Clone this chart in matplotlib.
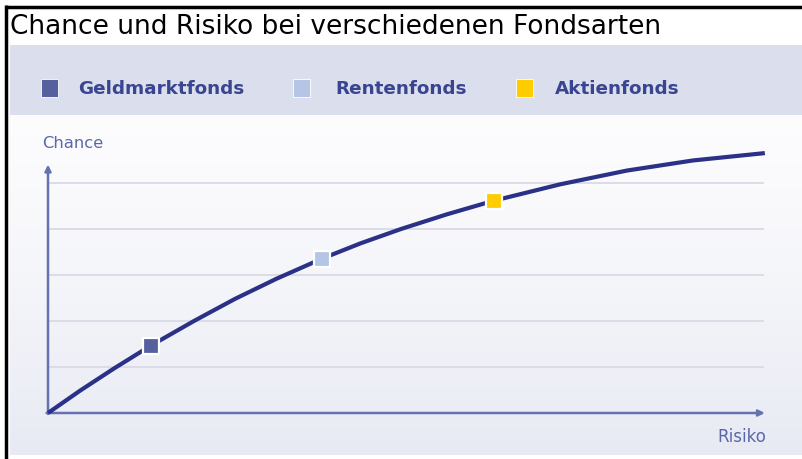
import numpy as np
import matplotlib.pyplot as plt
from matplotlib.patches import Rectangle

# values (Risiko 0..10, Chance in grid steps)
curve_risk = [0, 0.45, 0.92, 1.43, 2.03, 2.60, 3.18, 3.81, 4.35, 4.91,
              5.55, 6.20, 7.12, 8.05, 8.97, 9.97]
curve_chance = [0, 0.49, 0.97, 1.465, 2.00, 2.48, 2.92, 3.355, 3.69, 4.00,
                4.32, 4.615, 4.97, 5.27, 5.49, 5.65]

fund_names = ['Geldmarktfonds', 'Rentenfonds', 'Aktienfonds']
fund_risk = [1.43, 3.81, 6.20]
fund_chance = [1.465, 3.355, 4.615]
fund_colors = ['#56609e', '#b4c5e6', '#ffcc00']

grid_levels = [1, 2, 3, 4, 5]

W, H = 803, 459
fig = plt.figure(figsize=(W / 100, H / 100), dpi=100)
fig.patch.set_facecolor('white')

# background layer in pixel coordinates
bg = fig.add_axes([0, 0, 1, 1])
bg.axis('off')

# frame lines
bg.plot([6.5, W], [6.5, 6.5], color='black', lw=2.5, solid_capstyle='butt')
bg.plot([6.5, 6.5], [5, H], color='black', lw=2.5, solid_capstyle='butt')

# legend band and plot background gradient
bg.add_patch(Rectangle((10, 45), W - 10, 70, color='#dadeed', lw=0))
grad = np.linspace(0, 1, 200).reshape(-1, 1)
top = np.array([0.99, 0.99, 0.995])
bot = np.array([0.91, 0.918, 0.955])
img = top + (bot - top) * grad[:, :, None] ** 1.3
bg.imshow(img, extent=(10, W, 455, 115), aspect='auto', zorder=0)
bg.set_xlim(0, W)
bg.set_ylim(H, 0)

bg.text(10, 27, 'Chance und Risiko bei verschiedenen Fondsarten',
        fontsize=19, family='DejaVu Sans', color='black', va='center', ha='left')

# legend
leg_sq_x = [41, 293, 516]
leg_txt_x = [78, 335, 555]
for name, col, sx, tx in zip(fund_names, fund_colors, leg_sq_x, leg_txt_x):
    bg.add_patch(Rectangle((sx, 79), 17, 18, facecolor=col, edgecolor='white', lw=0.6))
    bg.text(tx, 88.5, name, fontsize=13.2, fontweight='bold',
            family='DejaVu Sans', color='#3a4591', va='center', ha='left')

bg.text(42, 143, 'Chance', fontsize=11.8, family='DejaVu Sans',
        color='#5a68a8', va='center', ha='left')
bg.text(766, 437, 'Risiko', fontsize=12, family='DejaVu Sans',
        color='#5a68a8', va='center', ha='right')

# data axes: x 0..10 -> px 48..767, y 0..6 -> px 413..137
ax = fig.add_axes([48 / W, (H - 413) / H, (767 - 48) / W, 276 / H])
ax.set_xlim(0, 10)
ax.set_ylim(0, 6)
ax.axis('off')
ax.patch.set_alpha(0)

for g in grid_levels:
    ax.plot([0, 9.95], [g, g], color='#dcdce9', lw=1.4, zorder=1)

axis_col = '#6572b0'
ax.annotate('', xy=(0, 5.4), xytext=(0, -0.02),
            arrowprops=dict(arrowstyle='-|>', color=axis_col, lw=1.8, mutation_scale=9,
                            shrinkA=0, shrinkB=0), annotation_clip=False)
ax.annotate('', xy=(9.97, 0), xytext=(-0.02, 0),
            arrowprops=dict(arrowstyle='-|>', color=axis_col, lw=1.8, mutation_scale=9,
                            shrinkA=0, shrinkB=0), annotation_clip=False)

ax.plot(curve_risk, curve_chance, color='#2a3186', lw=3.0, solid_capstyle='butt',
        solid_joinstyle='round', zorder=3, clip_on=False)
for r, c, col in zip(fund_risk, fund_chance, fund_colors):
    ax.plot(r, c, marker='s', markersize=12, markerfacecolor=col,
            markeredgecolor='white', markeredgewidth=1.6, zorder=4, clip_on=False)

fig.savefig('out.png', dpi=100)
